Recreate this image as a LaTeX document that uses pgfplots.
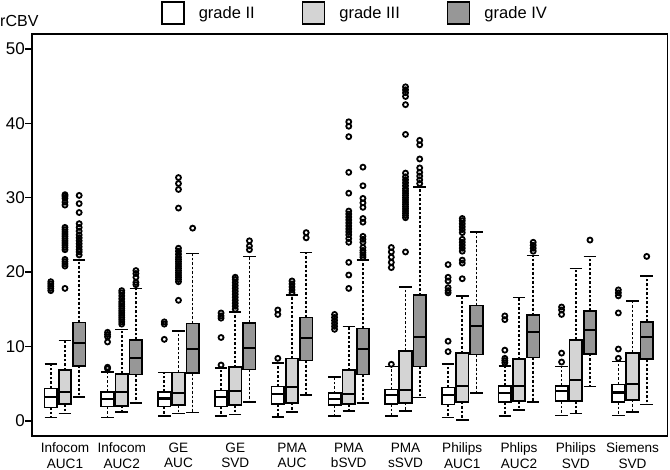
\documentclass[border=0pt]{standalone}
\usepackage{fontspec}
\setmainfont{Liberation Sans}
\usepackage{pgfplots}
\pgfplotsset{compat=1.18}
\usepgfplotslibrary{statistics}
\definecolor{lightbox}{HTML}{D4D4D4}
\definecolor{darkbox}{HTML}{979797}
\pgfplotsset{
  bstyle/.style={draw=black, line width=1.6pt, mark=o, mark size=2.5pt,
    mark options={solid, line width=1.8pt, draw=black, fill=none}, forget plot},
}
\newcommand{\bx}[8]{\addplot[bstyle, fill=#1, boxplot prepared={draw position=#2,
  lower whisker=#3, lower quartile=#4, median=#5, upper quartile=#6, upper whisker=#7}]
  coordinates {#8};}
\begin{document}
\begin{tikzpicture}
\useasboundingbox (0,0) rectangle (670pt,470pt);
\begin{axis}[
  at={(32pt,34.3pt)}, anchor=south west,
  scale only axis, width=635.5pt, height=401.7pt,
  xmin=0.419, xmax=11.616, ymin=-2, ymax=52,
  ytick={0,10,...,50}, ytick pos=left,
  xtick={1,...,11}, xtick pos=bottom,
  xticklabels={{Infocom\\AUC1},{Infocom\\AUC2},{GE\\AUC},{GE\\SVD},{PMA\\AUC},{PMA\\bSVD},{PMA\\sSVD},{Philips\\AUC1},{Phlips\\AUC2},{Philips\\SVD},{Siemens\\SVD}},
  xticklabel style={align=center, font=\fontsize{13.6}{15.4}\selectfont, inner sep=0pt},
  yticklabel style={font=\fontsize{17}{20}\selectfont, inner sep=0pt},
  /pgf/number format/assume math mode=true,
  tick align=outside, major tick length=7pt,
  tick style={line width=1.5pt, black},
  major x tick style={draw=none},
  axis line style={line width=1.8pt},
  boxplot/draw direction=y,
  boxplot/box extend=0.22,
  boxplot/whisker extend=0.22,
  boxplot/every median/.style={line width=2.1pt},
  boxplot/draw/lower whisker/.code={
    \draw[dash pattern=on 2.5pt off 2pt]
      (boxplot box cs:\pgfplotsboxplotvalue{lower quartile},0.5) -- (boxplot box cs:\pgfplotsboxplotvalue{lower whisker},0.5);
    \draw (boxplot whisker cs:\pgfplotsboxplotvalue{lower whisker},0) -- (boxplot whisker cs:\pgfplotsboxplotvalue{lower whisker},1);
  },
  boxplot/draw/upper whisker/.code={
    \draw[dash pattern=on 2.5pt off 2pt]
      (boxplot box cs:\pgfplotsboxplotvalue{upper quartile},0.5) -- (boxplot box cs:\pgfplotsboxplotvalue{upper whisker},0.5);
    \draw (boxplot whisker cs:\pgfplotsboxplotvalue{upper whisker},0) -- (boxplot whisker cs:\pgfplotsboxplotvalue{upper whisker},1);
  },
  legend style={at={(0.203,1.052)}, anchor=west, draw=none, fill=none, inner sep=0pt,
    font=\fontsize{16.5}{19}\selectfont,
    /tikz/every odd column/.append style={column sep=12pt},
    /tikz/every even column/.append style={column sep=45pt}},
  legend columns=3,
  legend image code/.code={\draw[#1] (0pt,-11pt) rectangle (22pt,11pt);},
]
\addlegendimage{draw=black, fill=white, line width=1.6pt}
\addlegendentry{grade II}
\addlegendimage{draw=black, fill=lightbox, line width=1.6pt}
\addlegendentry{grade III}
\addlegendimage{draw=black, fill=darkbox, line width=1.6pt}
\addlegendentry{grade IV}
% Infocom AUC1
\bx{white}{0.75}{0.45}{1.8}{3.15}{4.35}{7.6}{(0,17.5) (0,17.8) (0,18.1) (0,18.4) (0,18.7)}
\bx{lightbox}{1}{1.0}{2.25}{3.9}{6.8}{10.8}{(0,17.8) (0,20.8) (0,21.1) (0,21.4) (0,21.7) (0,23.0) (0,23.3) (0,23.6) (0,23.9) (0,24.2) (0,24.5) (0,24.8) (0,25.1) (0,25.4) (0,25.7) (0,26.0) (0,29.0) (0,29.4) (0,29.9) (0,30.2) (0,30.4)}
\bx{darkbox}{1.25}{3.2}{7.4}{10.5}{13.2}{21.6}{(0,22.3) (0,22.7) (0,23.0) (0,23.4) (0,23.8) (0,24.2) (0,24.6) (0,25.0) (0,25.5) (0,26.0) (0,26.5) (0,28.0) (0,29.2) (0,30.3)}
% Infocom AUC2
\bx{white}{1.75}{0.45}{1.9}{2.9}{3.9}{6.6}{(0,7.0) (0,7.2) (0,10.6) (0,11.3) (0,11.6) (0,11.9)}
\bx{lightbox}{2}{1.2}{2.0}{3.9}{6.3}{12.3}{(0,13.0) (0,13.3) (0,13.6) (0,13.9) (0,14.2) (0,14.5) (0,14.8) (0,15.1) (0,15.4) (0,15.7) (0,16.0) (0,16.4) (0,16.8) (0,17.2) (0,17.5)}
\bx{darkbox}{2.25}{2.4}{6.2}{8.5}{10.9}{17.8}{(0,18.3) (0,18.6) (0,19.3) (0,19.8) (0,20.2)}
% GE AUC
\bx{white}{2.75}{0.63}{1.9}{3.0}{3.9}{6.5}{(0,10.95) (0,13.0) (0,13.3)}
\bx{lightbox}{3}{1.0}{2.1}{3.7}{6.5}{12.1}{(0,16.2) (0,18.7) (0,19.0) (0,19.3) (0,19.6) (0,19.9) (0,20.2) (0,20.5) (0,20.8) (0,21.1) (0,21.4) (0,21.7) (0,22.0) (0,22.4) (0,22.8) (0,23.2) (0,28.6) (0,31.1) (0,31.9) (0,32.7)}
\bx{darkbox}{3.25}{1.1}{6.4}{9.7}{13.1}{22.5}{(0,25.9)}
% GE SVD
\bx{white}{3.75}{0.63}{1.9}{3.15}{4.1}{7.1}{(0,7.5) (0,11.2) (0,13.8) (0,14.1) (0,14.5)}
\bx{lightbox}{4}{0.85}{2.1}{4.0}{7.2}{14.6}{(0,15.0) (0,15.4) (0,15.8) (0,16.2) (0,16.6) (0,17.0) (0,17.4) (0,17.8) (0,18.2) (0,18.6) (0,19.0) (0,19.3)}
\bx{darkbox}{4.25}{2.5}{6.9}{9.8}{13.15}{22.1}{(0,23.0) (0,23.5) (0,24.2)}
% PMA AUC
\bx{white}{4.75}{0.55}{2.25}{3.6}{4.6}{7.8}{(0,8.4) (0,14.3) (0,14.9)}
\bx{lightbox}{5}{1.2}{2.4}{4.6}{8.4}{16.9}{(0,17.2) (0,17.6) (0,18.0) (0,18.4) (0,18.8)}
\bx{darkbox}{5.25}{3.5}{8.1}{11.1}{13.9}{22.6}{(0,24.6) (0,25.3)}
% PMA bSVD
\bx{white}{5.75}{0.63}{2.1}{2.9}{3.7}{5.9}{(0,12.3) (0,12.7) (0,13.1) (0,13.5) (0,13.9) (0,14.3)}
\bx{lightbox}{6}{1.3}{2.25}{3.6}{6.8}{12.7}{(0,17.8) (0,19.6) (0,21.3) (0,24.0) (0,24.5) (0,25.0) (0,25.4) (0,25.8) (0,26.2) (0,26.6) (0,27.0) (0,27.4) (0,27.8) (0,28.2) (0,30.6) (0,33.4) (0,38.2) (0,39.6) (0,40.2)}
\bx{darkbox}{6.25}{2.4}{6.2}{9.6}{12.4}{21.6}{(0,22.0) (0,22.3) (0,22.6) (0,22.9) (0,23.3) (0,24.0) (0,24.4) (0,24.8) (0,26.7) (0,27.2) (0,28.7) (0,29.3) (0,29.9) (0,31.6) (0,34.1)}
% PMA sSVD
\bx{white}{6.75}{0.63}{2.25}{3.45}{4.2}{7.3}{(0,7.6) (0,20.6) (0,21.3) (0,22.0) (0,22.7) (0,23.3)}
\bx{lightbox}{7}{1.35}{2.4}{4.2}{9.4}{17.95}{(0,22.7) (0,27.3) (0,27.6) (0,27.9) (0,28.2) (0,28.5) (0,28.8) (0,29.1) (0,29.4) (0,29.7) (0,30.0) (0,30.3) (0,30.6) (0,30.9) (0,31.2) (0,31.6) (0,32.0) (0,32.4) (0,32.8) (0,33.3) (0,38.5) (0,42.5) (0,43.6) (0,44.1) (0,44.5) (0,44.9)}
\bx{darkbox}{7.25}{3.15}{7.3}{11.3}{16.9}{31.4}{(0,31.9) (0,32.4) (0,32.9) (0,33.4) (0,34.0) (0,35.2) (0,37.1) (0,37.7)}
% Philips AUC1
\bx{white}{7.75}{0.45}{2.2}{3.45}{4.5}{7.6}{(0,9.3) (0,10.7) (0,17.2) (0,17.5) (0,17.9) (0,18.8) (0,19.3) (0,21.0)}
\bx{lightbox}{8}{0.1}{2.55}{4.7}{9.1}{16.8}{(0,19.1) (0,21.2) (0,21.6) (0,22.8) (0,23.2) (0,23.6) (0,24.0) (0,24.4) (0,25.3) (0,25.7) (0,26.1) (0,26.5) (0,26.9) (0,27.2)}
\bx{darkbox}{8.25}{3.7}{8.9}{12.7}{15.5}{25.4}{}
% Phlips AUC2
\bx{white}{8.75}{0.63}{2.5}{3.7}{4.7}{7.4}{(0,7.8) (0,8.1) (0,8.4) (0,9.5) (0,13.6) (0,14.1)}
\bx{lightbox}{9}{1.45}{2.65}{4.7}{8.3}{16.6}{}
\bx{darkbox}{9.25}{2.55}{8.5}{11.9}{14.2}{22.2}{(0,22.8) (0,23.2) (0,23.6) (0,24.0)}
% Philips SVD
\bx{white}{9.75}{0.7}{2.65}{4.0}{4.7}{7.3}{(0,7.9) (0,9.1) (0,14.3) (0,14.9) (0,15.3)}
\bx{lightbox}{10}{1.0}{2.65}{5.5}{10.9}{20.5}{}
\bx{darkbox}{10.25}{4.6}{9.0}{12.2}{14.8}{22.1}{(0,24.3)}
% Siemens SVD
\bx{white}{10.75}{0.7}{2.5}{3.8}{4.9}{8.0}{(0,8.4) (0,9.65) (0,14.5) (0,16.8) (0,17.2) (0,17.6)}
\bx{lightbox}{11}{1.2}{2.8}{4.9}{9.15}{16.1}{}
\bx{darkbox}{11.25}{2.2}{8.3}{11.3}{13.3}{19.5}{(0,22.1)}
\end{axis}
\node[anchor=base west, inner sep=0pt, font=\fontsize{16}{19}\selectfont] at ([xshift=-32pt, yshift=7.3pt]current axis.north west) {rCBV};
\end{tikzpicture}
\end{document}
